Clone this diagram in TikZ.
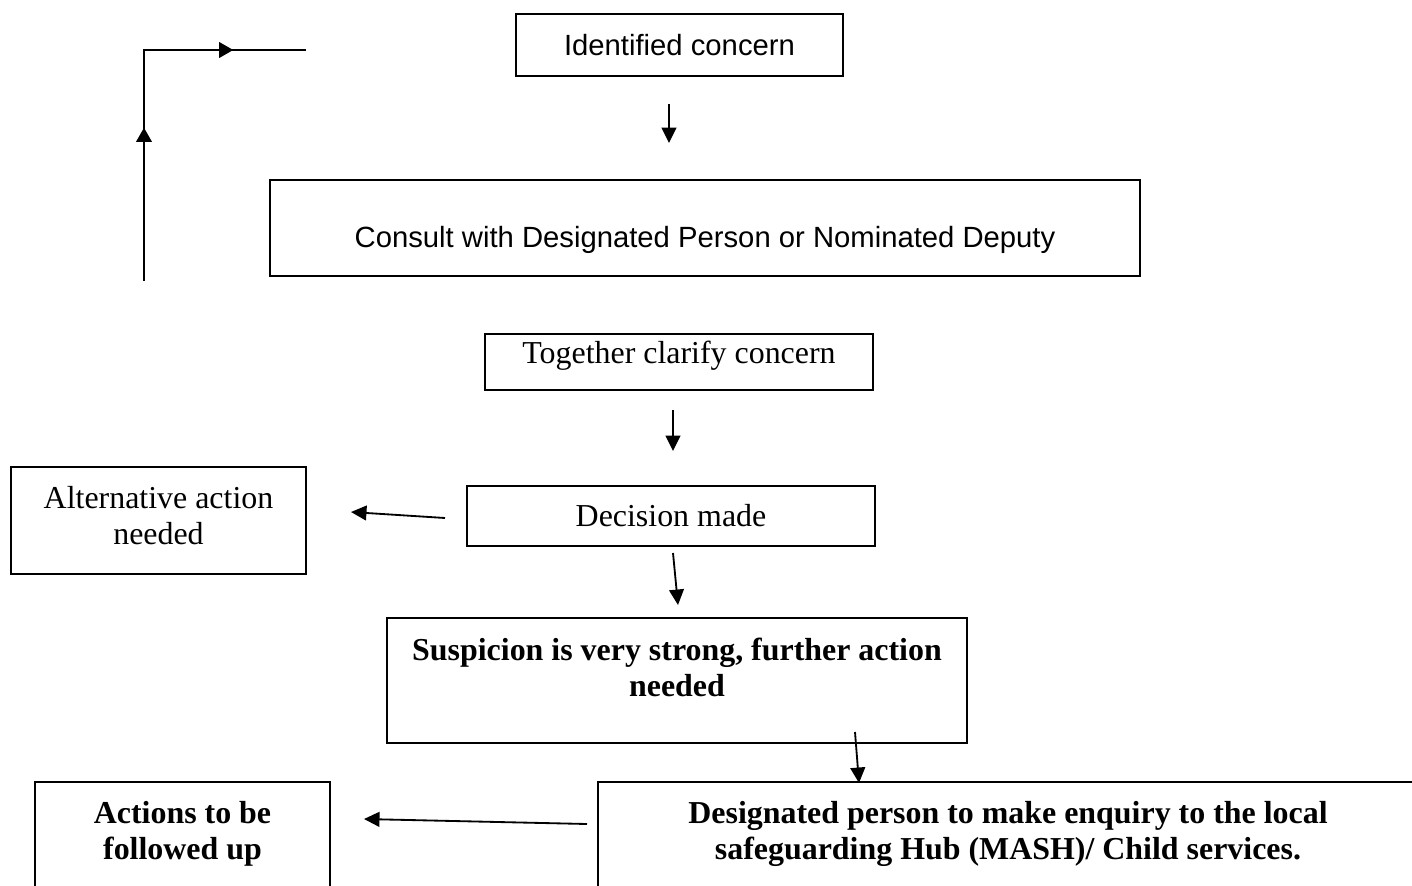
\documentclass[tikz,border=0pt]{standalone}
\usepackage{fontspec}
\setmainfont{Liberation Serif}
\newfontfamily\arialfont{Liberation Sans}
\usepackage{tikz}
\usetikzlibrary{arrows.meta}
\usetikzlibrary{decorations.markings}
\tikzset{
   box/.style={draw=black, line width=1.7pt, rectangle, inner sep=2pt,
      align=center, font=\fontsize{22.7}{25.6}\selectfont},
   sansbox/.style={box, font=\arialfont\fontsize{20.8}{24}\selectfont},
   flow/.style={draw=black, line width=1.3pt,
      -{Triangle[length=11pt, width=10.5pt]}},
   loopline/.style={draw=black, line width=1.3pt, postaction={decorate},
      decoration={markings,
         mark=at position .39 with {\arrow{Triangle[length=10pt, width=11pt]}},
         mark=at position .815 with {\arrow{Triangle[length=10pt, width=11pt]}}}},
    }

\begin{document}
\begin{tikzpicture}[x=0.025cm, y=-0.025cm]
            \clip (0,0) rectangle (1412,886);
            \fill[white] (0,0) rectangle (1412,886);
            % boxes
            \node[sansbox, minimum width=8.175cm, minimum height=1.55cm] (ident) at (679.5,45) {Identified concern};
            \node[sansbox, minimum width=21.75cm, minimum height=2.4cm, text height=32.7pt, text depth=4.3pt] (consult) at (705,228) {Consult with Designated Person or Nominated Deputy};
            \node[box, minimum width=9.7cm, minimum height=1.4cm, text height=7.1pt, text depth=4.3pt] (clarify) at (679,362) {Together clarify concern};
            \node[box, minimum width=10.2cm, minimum height=1.5cm] (decision) at (671,516) {Decision made};
            \node[box, minimum width=7.375cm, minimum height=2.675cm] (altern) at (158.5,520.5) {Alternative action\\ needed\rule[-7pt]{0pt}{7pt}};
            \node[box, minimum width=14.5cm, minimum height=3.125cm, font=\bfseries\fontsize{22.7}{25.6}\selectfont] (suspicion) at (677,680.5) {Suspicion is very strong, further action\\ needed\rule[-19.2pt]{0pt}{19.2pt}};
            \node[box, minimum width=7.375cm, minimum height=3cm, font=\bfseries\fontsize{22.7}{25.6}\selectfont] (followup) at (182.5,842) {Actions to be\\ followed up\rule[-17pt]{0pt}{17pt}};
            \node[box, minimum width=20.5cm, minimum height=3cm, font=\bfseries\fontsize{22.7}{25.6}\selectfont] (mash) at (1008,842) {Designated person to make enquiry to the local\\ safeguarding Hub (MASH)/ Child services.\rule[-17pt]{0pt}{17pt}};
            % loose arrow ends
            \coordinate (loopstart) at (144,281);
            \coordinate (loopcorner) at (144,50);
            \coordinate (loopend) at (306,50);
            \coordinate (a1s) at (669,104);
            \coordinate (a1e) at (669,143);
            \coordinate (a2s) at (673,410);
            \coordinate (a2e) at (673,451);
            \coordinate (a3s) at (445,518);
            \coordinate (a3e) at (351,512);
            \coordinate (a4s) at (673,553);
            \coordinate (a4e) at (678,605);
            \coordinate (a5s) at (855,732);
            \coordinate (a5e) at (859,783);
            \coordinate (a6s) at (587,824);
            \coordinate (a6e) at (364,819);
            % arrows
            \draw[loopline] (loopstart) -- (loopcorner) -- (loopend);
            \draw[flow] (a1s) to (a1e);
            \draw[flow] (a2s) to (a2e);
            \draw[flow] (a3s) to (a3e);
            \draw[flow] (a4s) to (a4e);
            \draw[flow] (a5s) to (a5e);
            \draw[flow] (a6s) to (a6e);
        \end{tikzpicture}
\end{document}
